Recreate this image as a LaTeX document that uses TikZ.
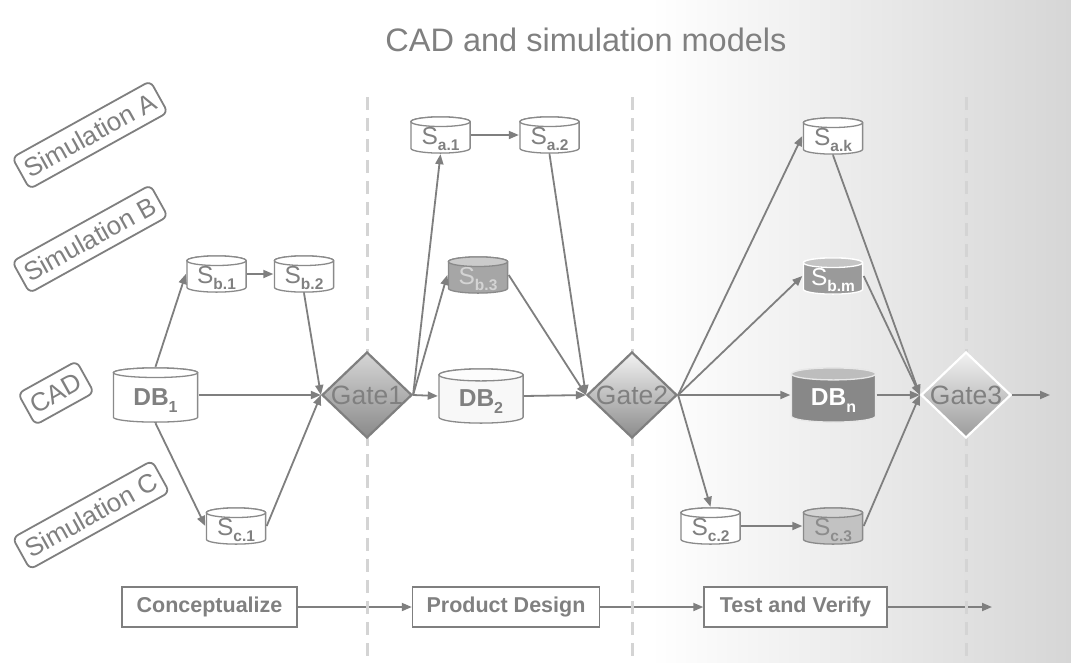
\documentclass[tikz,border=0pt]{standalone}
\usepackage{fontspec}
\setmainfont{Liberation Sans}
\usetikzlibrary{shapes.geometric,arrows.meta,calc}

\definecolor{ink}{RGB}{128,128,128}
\definecolor{edge}{RGB}{127,127,127}
\definecolor{rim}{RGB}{138,138,138}
\definecolor{rule}{RGB}{212,212,212}
\definecolor{bgend}{RGB}{214,214,214}
% gate shading
\definecolor{gAtop}{RGB}{214,214,214}
\definecolor{gAbot}{RGB}{138,138,138}
\definecolor{gBtop}{RGB}{242,242,242}
\definecolor{gBbot}{RGB}{140,140,140}
\definecolor{gCtop}{RGB}{242,242,242}
\definecolor{gCbot}{RGB}{155,155,155}
% cylinder fills
\definecolor{sbthreebody}{RGB}{166,166,166}
\definecolor{sbthreetop}{RGB}{203,203,203}
\definecolor{sbthreetext}{RGB}{212,212,212}
\definecolor{dbtwobody}{RGB}{248,248,248}
\definecolor{dbtwotop}{RGB}{252,252,252}
\definecolor{sbmbody}{RGB}{154,154,154}
\definecolor{sbmtop}{RGB}{196,196,196}
\definecolor{dbnbody}{RGB}{136,136,136}
\definecolor{dbntop}{RGB}{189,189,189}
\definecolor{dbnrim}{RGB}{232,232,232}
\definecolor{scthreebody}{RGB}{194,194,194}
\definecolor{scthreetop}{RGB}{212,212,212}
\definecolor{scthreetext}{RGB}{140,140,140}

% cylinder labels: S with bold subscript, DB with bold subscript
\newcommand\Sv[1]{{\fontsize{24.5}{24.5}\selectfont S}\raisebox{-6.5pt}{\fontsize{15.5}{15.5}\selectfont\bfseries #1}}
\newcommand\DBv[1]{{\fontsize{24.5}{24.5}\selectfont\bfseries DB}\raisebox{-7pt}{\fontsize{16}{16}\selectfont\bfseries #1}}

\tikzset{
  % cylinder drawn inside a rectangular node: {body}{top}{border}{text}{y radius}
  cyl/.style n args={5}{rectangle, inner sep=0pt, text=#4,
    path picture={
      \filldraw[fill=#1, draw=#3, line width=1.3pt]
        let \p1=(path picture bounding box.south west),
            \p2=(path picture bounding box.north east),
            \n1={(\x2-\x1)/2-0.9pt} in
        (\x1+0.9pt,\y2-0.9pt-#5) -- (\x1+0.9pt,\y1+0.9pt+#5)
        arc[start angle=180,end angle=360,x radius={\n1},y radius=#5]
        -- (\x2-0.9pt,\y2-0.9pt-#5)
        arc[start angle=0,end angle=180,x radius={\n1},y radius=#5] -- cycle;
      \filldraw[fill=#2, draw=#3, line width=1.3pt]
        let \p1=(path picture bounding box.south west),
            \p2=(path picture bounding box.north east),
            \n1={(\x2-\x1)/2-0.9pt} in
        ({(\x1+\x2)/2},\y2-0.9pt-#5) ellipse[x radius={\n1}, y radius=#5];
    }},
  small/.style={minimum width=61pt, minimum height=38pt, text height=18.5pt, text depth=0pt},
  big/.style={minimum width=86pt, minimum height=56pt, text height=21pt, text depth=0pt},
  plaincyl/.style={cyl={white}{white}{rim}{ink}{4.8pt}},
  gate/.style={diamond, inner sep=0pt, minimum width=90pt, minimum height=86pt, line width=2.2pt},
  gatetext/.style={text=ink, font=\fontsize{26.5}{26.5}\selectfont},
  lab/.style={draw=edge, line width=1.8pt, rounded corners=6pt, rotate=29,
    inner xsep=6pt, inner ysep=0pt, minimum height=36pt, text=ink,
    font=\fontsize{26}{26}\selectfont},
  stage/.style={draw=edge, line width=1.4pt, fill=white, minimum height=40pt,
    inner sep=0pt, text=ink, font=\fontsize{21.5}{21.5}\selectfont\bfseries},
  arr/.style={draw=edge, line width=1.8pt, -{Triangle[length=10pt,width=8pt]}},
  sep/.style={draw=rule, line width=3pt, dash pattern=on 13pt off 8pt},
}

\begin{document}
\begin{tikzpicture}[x=1pt,y=-1pt]
\useasboundingbox (0,0) rectangle (1071,662);
% background with grey fade to the right
\fill[white] (0,0) rectangle (1071,662);
\shade[left color=white, right color=bgend] (650,0) rectangle (1071,662);

% title
\node[text=ink, font=\fontsize{32.5}{32.5}\selectfont] (title) at (586,40) {CAD and simulation models};

% rotated track labels
\node[lab] (simA) at (90,135) {Simulation A};
\node[lab] (simB) at (90,239) {Simulation B};
\node[lab] (cad)  at (56,393) {CAD};
\node[lab] (simC) at (91,515) {Simulation C};

% phase boxes
\node[stage, minimum width=175pt] (p1) at (209.5,607) {Conceptualize};
\node[stage, minimum width=187pt] (p2) at (506,607) {Product Design};
\node[stage, minimum width=183pt] (p3) at (795.5,607) {Test and Verify};
\coordinate (pend) at (992,607);
\draw[arr] (p1) -- (p2);
\draw[arr] (p2) -- (p3);
\draw[arr] (p3) -- (pend);

% phase separators
\foreach \x in {367,632,966} \draw[sep] (\x,97) -- (\x,662);

% gates
\node[gate, draw=edge, top color=gAtop, bottom color=gAbot,
  label={[gatetext]center:Gate1}] (g1) at (367,395) {};
\node[gate, draw=edge, top color=gBtop, bottom color=gBbot,
  label={[gatetext]center:Gate2}] (g2) at (632,395) {};
\node[gate, draw=white, top color=gCtop, bottom color=gCbot,
  label={[gatetext]center:Gate3}] (g3) at (966,395) {};
\coordinate (gout) at (1050,395);

% databases and simulation stores
\node[plaincyl, big] (db1) at (155.5,395) {\DBv{1}};
\node[plaincyl, small] (sb1) at (216.5,274) {\Sv{b.1}};
\node[plaincyl, small] (sb2) at (304,274) {\Sv{b.2}};
\node[plaincyl, small] (sc1) at (236,526) {\Sv{c.1}};

\node[plaincyl, small] (sa1) at (440.5,135) {\Sv{a.1}};
\node[plaincyl, small] (sa2) at (549.5,135) {\Sv{a.2}};
\node[cyl={sbthreebody}{sbthreetop}{rim}{sbthreetext}{4.8pt}, small] (sb3) at (478,275) {\Sv{b.3}};
\node[cyl={dbtwobody}{dbtwotop}{rim}{ink}{6pt}, big] (db2) at (481,396) {\DBv{2}};

\node[plaincyl, small] (sak) at (833,136) {\Sv{a.k}};
\node[cyl={sbmbody}{sbmtop}{white}{white}{4.8pt}, small] (sbm) at (833,276) {\Sv{b.m}};
\node[cyl={dbnbody}{dbntop}{dbnrim}{white}{6pt}, big] (dbn) at (833.5,395) {\DBv{n}};
\node[plaincyl, small] (sc2) at (710.5,526) {\Sv{c.2}};
\node[cyl={scthreebody}{scthreetop}{rim}{scthreetext}{4.8pt}, small] (sc3) at (833,526) {\Sv{c.3}};

% flows into gate 1
\draw[arr] (db1.north) -- (sb1.west);
\draw[arr] (sb1) -- (sb2);
\draw[arr] (sb2.south) -- (g1.west);
\draw[arr] (db1.east) -- (g1.west);
\draw[arr] (db1.south) -- (sc1.west);
\draw[arr] (sc1.east) -- (g1.west);

% flows from gate 1 to gate 2
\draw[arr] (g1.east) -- (sa1.south);
\draw[arr] (g1.east) -- (sb3.west);
\draw[arr] (g1.east) -- (db2.west);
\draw[arr] (sa1) -- (sa2);
\draw[arr] (sa2.south) -- (g2.west);
\draw[arr] (sb3.east) -- (g2.west);
\draw[arr] (db2.east) -- (g2.west);

% flows from gate 2 to gate 3
\draw[arr] (g2.east) -- (sak.west);
\draw[arr] (g2.east) -- (sbm.west);
\draw[arr] (g2.east) -- (dbn.west);
\draw[arr] (g2.east) -- (sc2.north);
\draw[arr] (sc2) -- (sc3);
\draw[arr] (sak.south) -- (g3.west);
\draw[arr] (sbm.east) -- (g3.west);
\draw[arr] (dbn.east) -- (g3.west);
\draw[arr] (sc3.east) -- (g3.west);
\draw[arr] (g3.east) -- (gout);
\end{tikzpicture}
\end{document}
